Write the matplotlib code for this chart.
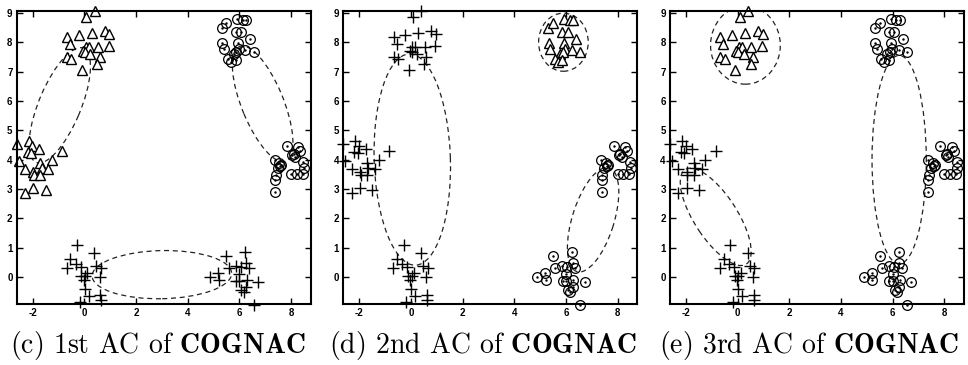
import numpy as np
import matplotlib
matplotlib.use("Agg")
from matplotlib import pyplot as plt
from matplotlib.patches import Ellipse

# six point groups, the same points in every panel
a_x = [0.40, 0.08, -0.67, -0.22, 0.28, 0.78, 0.97, -0.56, 0.05, 0.17, 0.53, 0.94,
       -0.05, 0.03, 0.23, -0.67, -0.50, 0.59, 0.50, -0.09]
a_y = [9.08, 8.85, 8.19, 8.24, 8.32, 8.38, 8.29, 7.93, 7.85, 7.82, 7.85, 7.87,
       7.71, 7.68, 7.60, 7.51, 7.43, 7.49, 7.27, 7.04]

b_x = [-2.62, -2.16, -2.02, -2.20, -2.06, -1.75, -0.85, -1.25, -2.55, -1.70,
       -2.30, -1.98, -1.66, -1.40, -1.95, -1.70, -1.97, -2.30, -1.50]
b_y = [4.52, 4.62, 4.45, 4.26, 4.22, 4.36, 4.28, 4.00, 3.95, 3.88,
       3.68, 3.58, 3.72, 3.67, 3.46, 3.48, 3.02, 2.85, 2.96]

c_x = [-0.28, 0.38, -0.54, -0.69, -0.33, -0.15, 0.46, 0.65, 0.12, 0.03, -0.12,
       -0.03, 0.59, 0.01, 0.17, 0.62, -0.18, 0.63]
c_y = [1.09, 0.82, 0.62, 0.30, 0.43, 0.35, 0.37, 0.31, 0.12, 0.05, 0.05,
       -0.09, 0.00, -0.40, -0.65, -0.60, -0.86, -0.80]

d_x = [5.49, 6.23, 5.85, 5.59, 6.26, 6.36, 6.05, 5.18, 4.88, 5.21, 6.00, 5.87,
       6.00, 6.29, 6.72, 6.26, 6.08, 6.17, 6.55]
d_y = [0.71, 0.85, 0.37, 0.31, 0.48, 0.31, 0.35, 0.14, 0.00, -0.11, 0.09, -0.14,
       -0.12, -0.11, -0.18, -0.33, -0.45, -0.52, -0.94]

e_x = [5.31, 5.50, 5.92, 6.14, 6.27, 5.85, 6.06, 5.33, 5.40, 5.94, 6.40, 5.97,
       6.23, 6.55, 5.78, 5.88, 5.56, 5.68, 5.85]
e_y = [8.48, 8.67, 8.78, 8.76, 8.76, 8.34, 8.34, 7.97, 7.76, 7.97, 8.11, 7.76,
       7.72, 7.66, 7.59, 7.65, 7.42, 7.34, 7.40]

f_x = [7.85, 8.28, 8.36, 8.10, 8.05, 8.15, 7.36, 7.55, 7.62, 8.48, 7.48, 8.50,
       7.40, 8.00, 8.22, 8.45, 7.38, 7.38, 7.58]
f_y = [4.48, 4.44, 4.28, 4.20, 4.14, 4.10, 4.00, 3.88, 3.82, 3.92, 3.72, 3.72,
       3.48, 3.52, 3.52, 3.52, 3.32, 2.90, 3.78]

groups = {'a': (a_x, a_y), 'b': (b_x, b_y), 'c': (c_x, c_y),
          'd': (d_x, d_y), 'e': (e_x, e_y), 'f': (f_x, f_y)}

# which groups get which marker in each panel
panel_triangles = [['a', 'b'], ['e'], ['a']]
panel_plus = [['c', 'd'], ['a', 'b', 'c'], ['b', 'c']]
panel_circles = [['e', 'f'], ['d', 'f'], ['d', 'e', 'f']]

# cluster ellipses: (cx, cy, width, height, angle)
panel_ellipses = [
    [(-0.95, 5.85, 4.3, 1.6, 64), (6.9, 5.9, 4.3, 1.6, -64.6), (3.0, 0.08, 5.4, 1.64, 1)],
    [(0.05, 4.0, 7.2, 2.95, 92), (5.9, 8.0, 1.92, 1.98, 0), (7.05, 1.95, 3.75, 1.6, 69.6)],
    [(0.3, 7.9, 2.7, 2.66, 0), (-0.85, 2.05, 4.0, 1.6, -52.5), (6.25, 4.0, 7.1, 2.1, 90)],
]

captions = ['(c) 1st AC of', '(d) 2nd AC of', '(e) 3rd AC of']
caption_x = [158, 483, 809]

plt.rcParams['axes.unicode_minus'] = False
plt.rcParams['mathtext.fontset'] = 'cm'

fig = plt.figure(figsize=(9.68, 3.65), dpi=100)
lefts = [16.7, 343.3, 670]
W, H = 968.0, 365.0


def pick(names):
    xs, ys = [], []
    for n in names:
        xs += groups[n][0]
        ys += groups[n][1]
    return xs, ys


for i in range(3):
    ax = fig.add_axes([lefts[i] / W, 61 / H, 294 / W, 293.5 / H])
    ax.set_xlim(-2.62, 8.76)
    ax.set_ylim(-0.92, 9.08)
    ax.set_xticks([-2, 0, 2, 4, 6, 8])
    ax.set_yticks(range(0, 10))
    ax.tick_params(direction='in', top=True, right=True, length=4, width=1, pad=3,
                   labelsize=7)
    for lab in ax.get_xticklabels() + ax.get_yticklabels():
        lab.set_fontfamily('Liberation Sans')
        lab.set_fontweight('bold')
    for s in ax.spines.values():
        s.set_linewidth(1.5)

    for (cx, cy, w, h, ang) in panel_ellipses[i]:
        ax.add_patch(Ellipse((cx, cy), w, h, angle=ang, fill=False, color='#222222',
                             lw=0.9, linestyle=(0, (4, 3))))

    tx, ty = pick(panel_triangles[i])
    ax.plot(tx, ty, '^', ms=7.5, mfc='white', mec='black', mew=1.0, ls='none', clip_on=False)
    px, py = pick(panel_plus[i])
    ax.plot(px, py, '+', ms=8, color='black', mew=1.0, ls='none', clip_on=False)
    ox, oy = pick(panel_circles[i])
    ax.plot(ox, oy, 'o', ms=7, mfc='none', mec='black', mew=0.9, ls='none', clip_on=False)
    ax.plot(ox, oy, '.', ms=1.5, color='black', ls='none', clip_on=False)

    fig.text(caption_x[i] / W, 12 / H, captions[i] + r' $\mathbf{COGNAC}$',
             ha='center', va='baseline', fontsize=20, family='cmr10')

fig.savefig('out.png', dpi=100)
